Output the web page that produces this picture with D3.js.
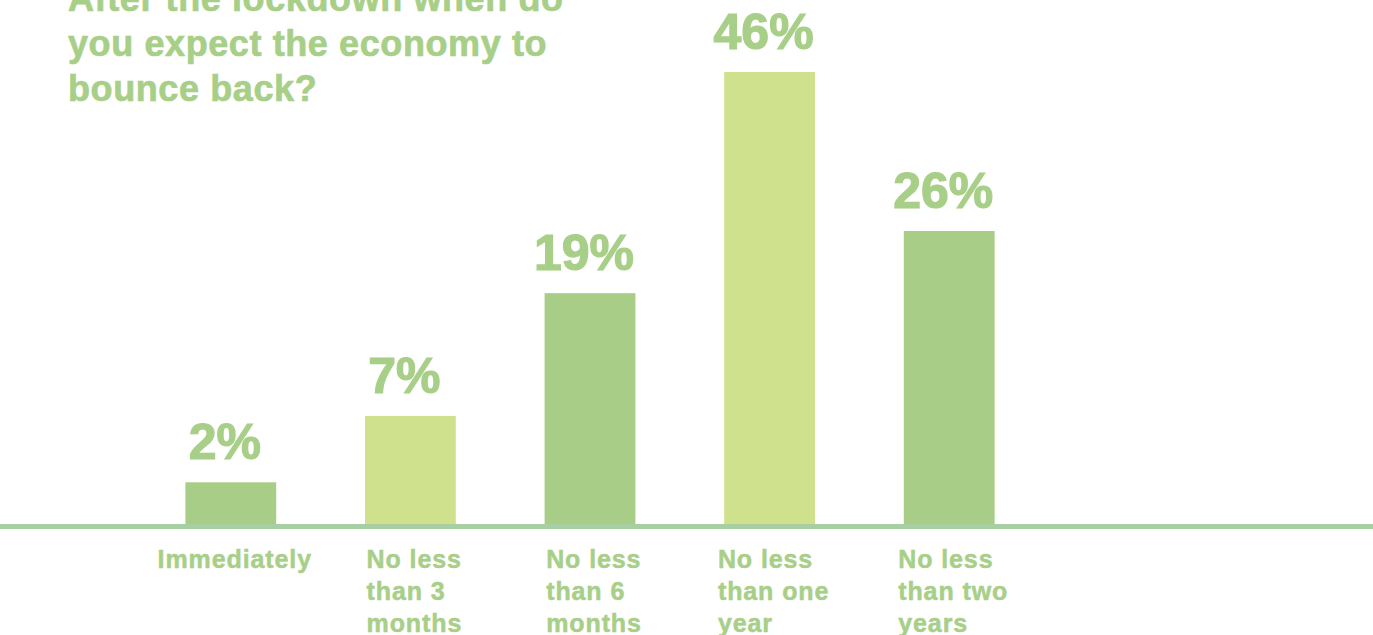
<!DOCTYPE html>
<html><head><meta charset="utf-8">
<script src="https://cdn.jsdelivr.net/npm/d3@7"></script>
<style>
html,body{margin:0;padding:0;background:#fff;}
svg{display:block;}
text{font-family:"Liberation Sans",Arial,Helvetica,sans-serif;font-weight:bold;}
</style></head>
<body>
<svg id="chart" width="1373" height="635"></svg>
<script>
const titleLines = ["After the lockdown when do", "you expect the economy to", "bounce back?"];
const categories = [["Immediately"], ["No less", "than 3", "months"], ["No less", "than 6", "months"], ["No less", "than one", "year"], ["No less", "than two", "years"]];
const values = [2, 7, 19, 46, 26];
const valueLabels = ["2%", "7%", "19%", "46%", "26%"];
const barColors = ["#a8cd87", "#d0e18d", "#a8cd87", "#d0e18d", "#a8cd87"];

const textColor = "#a8cf88";
const svg = d3.select("#chart");
const W = 1373, baseY = 524;

const x = d3.scaleBand().domain(d3.range(values.length)).range([140, 1040]).paddingInner(89/180).paddingOuter(0.5 - 89/360);
const y = d3.scalePow().exponent(0.76).domain([0, 46]).range([baseY, 72]);

// baseline
svg.append("rect").attr("x", 0).attr("y", baseY).attr("width", W).attr("height", 5).attr("fill", "#a7cfa3");

// bars
svg.selectAll("rect.bar").data(values).join("rect").attr("class", "bar")
  .attr("x", (d, i) => x(i)).attr("width", x.bandwidth())
  .attr("y", d => y(d)).attr("height", d => baseY - y(d))
  .attr("fill", (d, i) => barColors[i]);

// value labels
svg.selectAll("text.val").data(values).join("text").attr("class", "val")
  .attr("x", (d, i) => x(i) + x.bandwidth() / 2 - 6)
  .attr("y", d => y(d) - 23)
  .attr("text-anchor", "middle").attr("font-size", 50).attr("fill", textColor)
  .attr("stroke", textColor).attr("stroke-width", 1.2)
  .text((d, i) => valueLabels[i]);

// category labels
categories.forEach((lines, i) => {
  const g = svg.append("g");
  const t = g.append("text").attr("font-size", 25).attr("letter-spacing", 0.9).attr("fill", textColor)
    .attr("stroke", textColor).attr("stroke-width", 0.5);
  lines.forEach((l, j) => t.append("tspan").attr("x", 0).attr("y", 568 + j * 32).text(l));
  const w = t.node().getBBox().width;
  g.attr("transform", `translate(${x(i) + x.bandwidth() / 2 + 4 - w / 2},0)`);
});

// title
const tt = svg.append("text").attr("font-size", 36).attr("letter-spacing", 0.6).attr("fill", textColor)
  .attr("stroke", textColor).attr("stroke-width", 0.7);
titleLines.forEach((l, j) => tt.append("tspan").attr("x", 68).attr("y", 11 + j * 45).text(l));
</script>
</body></html>
